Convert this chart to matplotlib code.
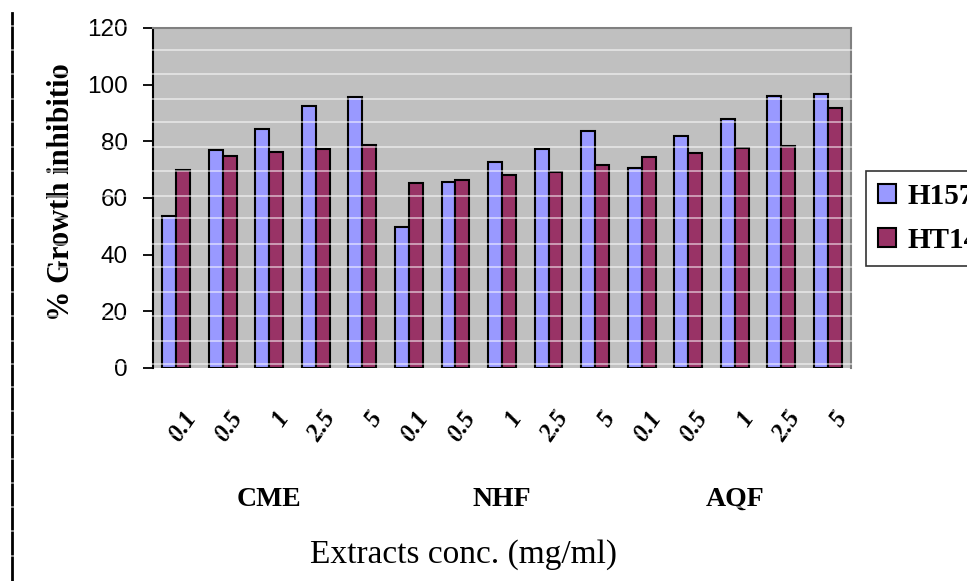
import numpy as np
import matplotlib.pyplot as plt
from matplotlib.lines import Line2D
import matplotlib.transforms as mtransforms

# concentrations (mg/ml) repeated for each extract
conc = ["0.1", "0.5", "1", "2.5", "5"]
extracts = ["CME", "NHF", "AQF"]

# % growth inhibition
h157 = [53.6, 76.8, 84.2, 92.5, 95.7,
        49.6, 65.8, 72.6, 77.3, 83.5,
        70.5, 81.9, 87.9, 96.1, 96.8]
ht144 = [69.8, 74.7, 76.2, 77.4, 78.7,
         65.2, 66.5, 68.1, 69.1, 71.7,
         74.4, 75.8, 77.8, 78.4, 91.8]
series_names = ["H157", "HT144"]

W, H = 967, 581
fig = plt.figure(figsize=(W / 100, H / 100), dpi=100)
ax = fig.add_axes([153 / W, 1 - 368 / H, (851 - 153) / W, (368 - 28) / H])
ax.set_facecolor("#c0c0c0")

x = np.arange(len(h157))
bw = 0.3
ax.bar(x - bw / 2, h157, bw, color="#9999ff", edgecolor="black", linewidth=1.5,
       label=series_names[0], zorder=2)
ax.bar(x + bw / 2, ht144, bw, color="#993366", edgecolor="black", linewidth=1.5,
       label=series_names[1], zorder=2)

ax.set_xlim(-0.5, len(h157) - 0.5)
ax.set_ylim(0, 120)
ax.set_yticks(np.arange(0, 121, 20))
ax.tick_params(axis="y", length=7, width=1.3, pad=11, labelsize=17.5, direction="out")
for t in ax.get_yticklabels():
    t.set_fontfamily("Liberation Sans")

ax.set_xticks(x)
ax.set_xticklabels(conc * len(extracts), rotation=55, ha="right", va="center",
                   rotation_mode="anchor", fontfamily="Liberation Serif",
                   fontstyle="italic", fontweight="bold", fontsize=18)
ax.tick_params(axis="x", length=0, pad=33)
shift = mtransforms.ScaledTranslation(0.15, 0, fig.dpi_scale_trans)
for t in ax.get_xticklabels():
    t.set_transform(t.get_transform() + shift)

for s in ["top", "right"]:
    ax.spines[s].set_color("#808080")
    ax.spines[s].set_linewidth(1.5)
ax.spines["left"].set_color("black")
ax.spines["left"].set_linewidth(1.5)
ax.spines["bottom"].set_visible(False)

# extract group names under the concentration labels
for i, name in enumerate(extracts):
    ax.text((2 * i + 1) / 6, -0.406, name, transform=ax.transAxes, ha="center",
            va="baseline", fontfamily="Liberation Serif", fontweight="bold", fontsize=20)

ax.set_ylabel("% Growth inhibitio", fontfamily="Liberation Serif", fontweight="bold",
              fontsize=22)
ax.yaxis.set_label_coords(-0.11, 0.518)

fig.text(463 / W, 1 - 563 / H, "Extracts conc. (mg/ml)", ha="center", va="baseline",
         fontfamily="Liberation Serif", fontsize=24)

leg = fig.legend(loc="upper left", bbox_to_anchor=(866 / W, 1 - 171 / H),
                 bbox_transform=fig.transFigure, borderaxespad=0, fancybox=False,
                 frameon=True, edgecolor="black", handlelength=0.62, handleheight=0.62,
                 handletextpad=0.4, borderpad=0.4, labelspacing=0.6,
                 prop={"family": "Liberation Serif", "weight": "bold", "size": 21})
leg.get_frame().set_linewidth(1.2)

# dashed border line on the left edge of the page
fig.add_artist(Line2D([12 / W, 12 / W], [1 - 13 / H, 0], transform=fig.transFigure,
                      color="black", linewidth=2, zorder=1))

# faint white scan lines running across the picture
scan_y = [26, 50, 74, 99, 122, 147, 171, 196, 218, 244, 267, 292, 316, 341, 364,
          387, 411, 435, 459, 483, 507, 531, 556]
for yy in scan_y:
    fig.add_artist(Line2D([0, 1], [1 - yy / H, 1 - yy / H], transform=fig.transFigure,
                          color="white", alpha=0.55, linewidth=1.3, zorder=2.5))

fig.savefig("out.png", dpi=100)
